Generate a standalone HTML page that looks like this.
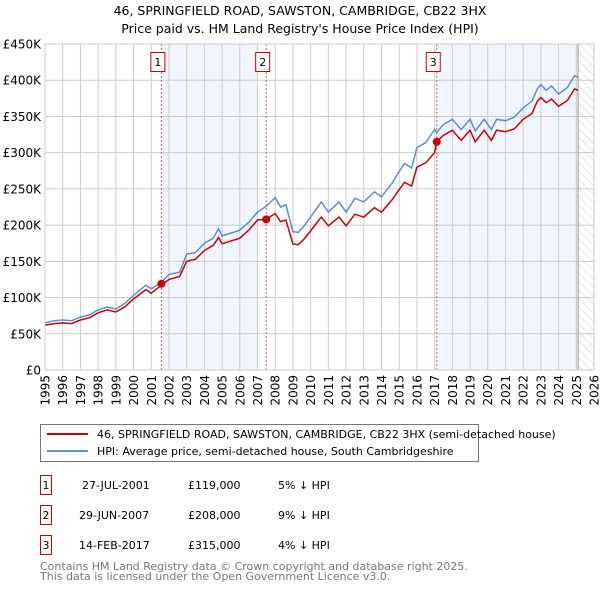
<!DOCTYPE html>
<html><head><meta charset="utf-8"><style>
body{margin:0;background:#fff;width:600px;height:590px;overflow:hidden;font-family:"DejaVu Sans","Liberation Sans",sans-serif}
svg text{font-family:"DejaVu Sans","Liberation Sans",sans-serif}
</style></head><body>
<svg id="c" width="600" height="590">
<defs><pattern id="hatch" width="6" height="6" patternUnits="userSpaceOnUse" patternTransform="rotate(-45)"><line x1="0" y1="0" x2="0" y2="6" stroke="#ccc" stroke-width="1"/></pattern></defs>
<text x="300" y="15" text-anchor="middle" font-size="12.5">46, SPRINGFIELD ROAD, SAWSTON, CAMBRIDGE, CB22 3HX</text>
<text x="300" y="33" text-anchor="middle" font-size="12.5">Price paid vs. HM Land Registry's House Price Index (HPI)</text>
<g id="plot"></g>
<rect x="40.5" y="424.5" width="438" height="37" fill="#fff" stroke="#777"/>
<line x1="47" y1="434" x2="88" y2="434" stroke="#cc0000" stroke-width="2"/>
<text x="97" y="438" font-size="11">46, SPRINGFIELD ROAD, SAWSTON, CAMBRIDGE, CB22 3HX (semi-detached house)</text>
<line x1="47" y1="451" x2="88" y2="451" stroke="#5b8fd0" stroke-width="2"/>
<text x="97" y="455" font-size="11">HPI: Average price, semi-detached house, South Cambridgeshire</text>
<g font-size="11">
<rect x="40.5" y="475.5" width="11" height="19" fill="none" stroke="#cc0000"/><text x="46" y="489" text-anchor="middle">1</text>
<text x="82" y="489">27-JUL-2001</text><text x="188" y="489">£119,000</text><text x="278" y="489">5% ↓ HPI</text>
<rect x="40.5" y="505.5" width="11" height="19" fill="none" stroke="#cc0000"/><text x="46" y="519" text-anchor="middle">2</text>
<text x="79" y="519">29-JUN-2007</text><text x="188" y="519">£208,000</text><text x="278" y="519">9% ↓ HPI</text>
<rect x="40.5" y="535.5" width="11" height="19" fill="none" stroke="#cc0000"/><text x="46" y="549" text-anchor="middle">3</text>
<text x="79" y="549">14-FEB-2017</text><text x="188" y="549">£315,000</text><text x="278" y="549">4% ↓ HPI</text>
</g>
<text x="40" y="570" font-size="11" fill="#777">Contains HM Land Registry data © Crown copyright and database right 2025.</text>
<text x="40" y="580" font-size="11" fill="#777">This data is licensed under the Open Government Licence v3.0.</text>
</svg>
<script>
const years=[1995,1995.5,1996,1996.5,1997,1997.5,1998,1998.5,1999,1999.5,2000,2000.7,2001,2001.57,2002,2002.6,2003,2003.5,2004,2004.5,2004.8,2005,2006,2006.5,2007,2007.49,2008,2008.3,2008.6,2009,2009.3,2009.6,2010,2010.6,2011,2011.6,2012,2012.5,2013,2013.6,2014,2014.6,2015,2015.3,2015.7,2016,2016.5,2017,2017.12,2017.5,2018,2018.5,2019,2019.3,2019.8,2020.2,2020.5,2021,2021.5,2022,2022.5,2022.8,2023,2023.3,2023.6,2024,2024.5,2024.9,2025.1];
const hpiValues=[65,68,69,68,73,76,83,87,84,92,103,117,112,121,132,135,160,162,175,182,195,185,193,204,218,226,238,225,228,191,190,198,211,232,218,232,218,237,232,246,239,258,274,285,279,307,314,332,328,339,346,332,346,330,346,332,346,344,349,362,371,388,394,386,392,381,390,406,404];
const priceValues=[62,64,65,64,69,72,79,83,80,87,98,111,106,117,125,129,150,153,165,172,183,174,182,193,207,208,216,205,207,174,173,180,192,211,199,211,199,215,211,224,218,235,249,259,254,280,286,300,315,324,331,317,331,315,331,317,331,329,333,346,354,371,376,369,374,364,372,388,386];
const yTicks=[0,50,100,150,200,250,300,350,400,450];
const yTickLabels=["£0","£50K","£100K","£150K","£200K","£250K","£300K","£350K","£400K","£450K"];
const saleYears=[2001.57,2007.49,2017.12];
const salePrices=[119,208,315];
const saleLabels=["1","2","3"];
const X0=45,X1=594,Y0=370,Y1=44,YR0=1995,YR1=2026;
const xs=y=>X0+(y-YR0)/(YR1-YR0)*(X1-X0);
const ys=v=>Y0-v/450*(Y0-Y1);
const g=document.getElementById('plot');const NS='http://www.w3.org/2000/svg';
function mk(t,a){const e=document.createElementNS(NS,t);for(const k in a)e.setAttribute(k,a[k]);g.appendChild(e);return e;}
let e;
e=mk('rect',{x:xs(saleYears[0]),y:Y1,width:xs(2007.0)-xs(saleYears[0]),height:Y0-Y1,fill:'#eef3fc',opacity:0.8});


e=mk('rect',{x:xs(saleYears[2]),y:Y1,width:xs(2025.1)-xs(saleYears[2]),height:Y0-Y1,fill:'#eef3fc',opacity:0.8});


e=mk('rect',{x:xs(2025.1),y:Y1,width:X1-xs(2025.1),height:Y0-Y1,fill:'url(#hatch)'});


for(let yr=YR0;yr<=YR1;yr++){
 e=mk('line',{x1:xs(yr),x2:xs(yr),y1:Y1,y2:Y0,stroke:'#ccc','stroke-width':1});
 
 
 e=mk('text',{x:0,y:0,'font-size':12,'text-anchor':'end',transform:`translate(${xs(yr)+4.5},${Y0+5}) rotate(-90)`});
 e.textContent=yr;
 
 
}
yTicks.forEach((v,i)=>{
 e=mk('line',{x1:X0,x2:X1,y1:ys(v),y2:ys(v),stroke:'#ccc','stroke-width':1});
 
 
 e=mk('text',{x:X0-4,y:ys(v)+4.5,'font-size':12,'text-anchor':'end'});
 e.textContent=yTickLabels[i];
 
 
});
e=mk('line',{x1:xs(2025.1),x2:xs(2025.1),y1:Y1,y2:Y0,stroke:'#999','stroke-width':1});


saleYears.forEach((yr,i)=>{
 e=mk('line',{x1:xs(yr),x2:xs(yr),y1:Y1,y2:Y0,stroke:'#ee5555','stroke-width':1,'stroke-dasharray':'2,2'});
 
 
 e=mk('rect',{x:xs(yr)-10.5,y:52.5,width:14,height:19,fill:'#fff',stroke:'#cc0000'});
 
 
 e=mk('text',{x:xs(yr)-3.5,y:66,'font-size':11,'text-anchor':'middle'});
 e.textContent=saleLabels[i];
 
 
});
const path=a=>a.map((v,i)=>(i?'L':'M')+xs(years[i]).toFixed(1)+','+ys(v).toFixed(1)).join('');
e=mk('path',{d:path(hpiValues),fill:'none',stroke:'#5b8fd0','stroke-width':1.5});


e=mk('path',{d:path(priceValues),fill:'none',stroke:'#cc0000','stroke-width':1.5});


saleYears.forEach((yr,i)=>{
 e=mk('circle',{cx:xs(yr),cy:ys(salePrices[i]),r:4,fill:'#cc0000'});
 
 
});
e=mk('rect',{x:X0,y:Y1,width:X1-X0,height:Y0-Y1,fill:'none',stroke:'#ccc'});


</script>
</body></html>
